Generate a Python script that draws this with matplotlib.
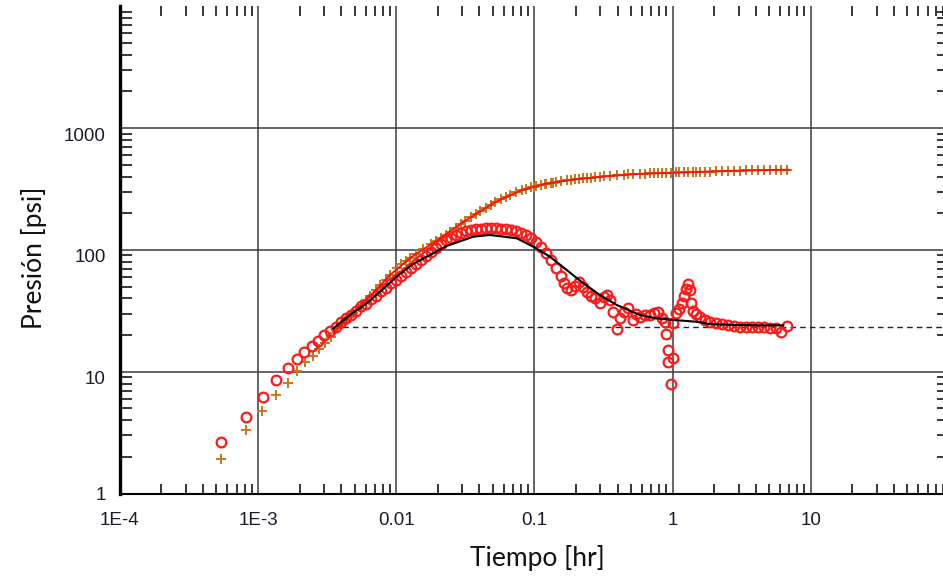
import matplotlib.pyplot as plt
import matplotlib.transforms as mtransforms
from matplotlib.ticker import FixedLocator, LogLocator, NullFormatter

# pressure change data (+), hr / psi
dp_time = [5.37e-4, 8.15e-4, 1.07e-3, 1.35e-3, 1.64e-3, 1.91e-3, 2.19e-3, 2.49e-3,
           2.76e-3, 3.05e-3, 3.36e-3, 3.79e-3, 3.99e-3, 4.26e-3, 4.71e-3, 4.87e-3,
           5.12e-3, 5.56e-3, 6.05e-3, 6.46e-3, 7.14e-3, 7.63e-3, 8.44e-3, 9.02e-3,
           1.014e-2, 1.083e-2, 1.178e-2, 1.259e-2, 1.39e-2, 1.563e-2, 1.79e-2, 1.94e-2,
           2.11e-2, 2.29e-2, 2.45e-2, 2.71e-2, 2.94e-2, 3.15e-2, 3.48e-2, 3.78e-2,
           4.04e-2, 4.47e-2, 4.85e-2, 5.19e-2, 5.73e-2, 6.23e-2, 6.66e-2, 7.36e-2,
           8.13e-2, 8.70e-2, 9.45e-2, 9.94e-2, 0.1027, 0.1117, 0.1194, 0.1214,
           0.132, 0.1364, 0.143, 0.156, 0.172, 0.184, 0.197, 0.210, 0.225, 0.240,
           0.257, 0.275, 0.298, 0.319, 0.353, 0.396, 0.445, 0.476, 0.517, 0.581,
           0.632, 0.686, 0.734, 0.784, 0.838, 0.896, 0.974, 1.058, 1.113, 1.209,
           1.293, 1.405, 1.477, 1.579, 1.717, 1.866, 2.062, 2.279, 2.518, 2.783,
           3.075, 3.399, 3.756, 4.150, 4.587, 5.069, 5.601, 6.088, 6.728]
dp_psi = [1.92, 3.32, 4.73, 6.47, 8.08, 10.2, 11.9, 13.5,
          15.4, 17.3, 19.4, 22.8, 24.0, 26.1, 29.2, 30.3,
          32.2, 35.3, 38.5, 41.8, 46.5, 51.5, 57.0, 62.2,
          71.0, 76.0, 81.0, 85.8, 93.0, 101.7, 112, 118.3,
          126, 133, 140.3, 152, 163, 172.7, 187, 198,
          208.6, 222, 235, 247.3, 260, 273, 282.3, 296,
          310.2, 318, 326, 331.5, 335, 342, 347.5, 349,
          354, 356.2, 361, 366, 373, 376, 380, 383, 386, 387,
          391, 394, 399, 402, 406, 410, 415, 418, 420, 421,
          423, 425, 426, 428, 429, 430, 430, 432, 433, 434,
          436, 437, 437, 438, 439, 440, 442, 443, 445, 446,
          448, 449, 452, 453, 453, 453, 453, 453, 455]

# pressure derivative data (o)
der_time = [5.37e-4, 8.18e-4, 1.08e-3, 1.36e-3, 1.64e-3, 1.90e-3, 2.17e-3, 2.46e-3,
            2.72e-3, 2.99e-3, 3.30e-3, 3.67e-3, 3.99e-3, 4.33e-3, 4.71e-3, 5.12e-3,
            5.56e-3, 6.05e-3, 6.57e-3, 7.14e-3, 7.76e-3, 8.44e-3, 9.17e-3, 9.97e-3,
            1.083e-2, 1.178e-2, 1.28e-2, 1.39e-2, 1.51e-2, 1.64e-2, 1.79e-2, 1.94e-2,
            2.11e-2, 2.29e-2, 2.49e-2, 2.71e-2, 2.94e-2, 3.20e-2, 3.48e-2, 3.78e-2,
            4.11e-2, 4.47e-2, 4.85e-2, 5.28e-2, 5.73e-2, 6.23e-2, 6.77e-2, 7.36e-2,
            8.00e-2, 8.70e-2, 9.45e-2, 0.1027, 0.1117, 0.1214, 0.132, 0.143,
            0.156, 0.164, 0.172, 0.184, 0.197, 0.210, 0.225, 0.240, 0.257, 0.275,
            0.298, 0.319, 0.335, 0.353, 0.371, 0.396, 0.416, 0.445, 0.476, 0.517,
            0.544, 0.581, 0.632, 0.686, 0.734, 0.784, 0.838, 0.881, 0.896, 0.927,
            0.927, 0.974, 1.007, 1.007, 1.058, 1.113, 1.170, 1.209, 1.250, 1.293,
            1.337, 1.359, 1.405, 1.477, 1.579, 1.717, 1.866, 2.062, 2.279, 2.518,
            2.783, 3.075, 3.399, 3.756, 4.150, 4.587, 5.069, 5.601, 6.088, 6.728]
der_psi = [2.63, 4.25, 6.23, 8.60, 10.7, 12.6, 14.4, 16.3,
           18.0, 19.9, 21.7, 23.3, 25.6, 27.6, 29.2, 31.5,
           34.6, 36.0, 39.5, 41.8, 46.0, 48.7, 53.5, 56.6,
           61.1, 65.8, 71.0, 76.6, 82.6, 89.1, 96.1, 103.7,
           111.8, 120.6, 125.2, 132.6, 137.6, 142.9, 145.7, 148.4,
           149.8, 151, 151, 151, 149.8, 148.4, 145.7, 142.9,
           137.6, 132.6, 125.2, 116.1, 105.6, 94.3, 82.6, 71.0,
           61.1, 53.5, 48.7, 46.9, 50.5, 54.5, 49.6, 45.1, 41.8, 40.3,
           36.6, 41.1, 42.6, 38.8, 30.9, 22.4, 27.6, 30.9, 33.3, 26.6,
           29.8, 28.1, 29.2, 29.2, 30.3, 30.9, 27.6, 25.6, 20.4, 15.1,
           12.0, 7.93, 12.95, 25.1, 30.3, 32.7, 36.6, 41.8, 47.7, 52.5,
           46.9, 36.6, 31.5, 29.8, 28.1, 26.6, 25.6, 25.1, 24.6, 24.2,
           23.7, 23.5, 23.3, 23.3, 23.1, 23.1, 22.9, 22.9, 21.3, 23.9]

# model curves
model_dp_time = [3.51e-3, 4.87e-3, 6.46e-3, 9.02e-3, 1.259e-2, 1.94e-2, 3.15e-2, 5.19e-2,
                 8.13e-2, 0.1194, 0.181, 0.313, 0.553, 0.99, 1.66, 2.925, 5.069, 6.9]
model_dp_psi = [20.8, 30.3, 41.8, 62.2, 85.8, 118, 173, 247,
                310, 348, 375, 400, 420, 430, 438, 447, 453, 455]
model_der_time = [3.51e-3, 4.63e-3, 6.12e-3, 8.03e-3, 9.97e-3, 1.323e-2, 1.855e-2, 2.32e-2,
                  3.61e-2, 4.77e-2, 7.45e-2, 9.82e-2, 0.1297, 0.1713, 0.2259, 0.2984,
                  0.394, 0.581, 0.767, 1.012, 1.495, 1.866, 2.75, 4.29, 6.32]
model_der_psi = [22.7, 29.2, 36.4, 47.7, 59.9, 76.6, 93.8, 107.7,
                 128.3, 132.6, 124.5, 106.2, 87.9, 68.4, 53.2, 42.6,
                 35.3, 29.2, 27.4, 26.6, 25.7, 24.6, 24.2, 24.0, 24.0]

# radial flow stabilisation
iarf_start = 3.5e-3
iarf_level = 23.5

x_ticks = [1e-4, 1e-3, 1e-2, 1e-1, 1, 10]
x_labels = ['1E-4', '1E-3', '0.01', '0.1', '1', '10']
y_ticks = [1, 10, 100, 1000]
y_labels = ['1', '10', '100', '1000']

fig = plt.figure(figsize=(9.43, 5.8), dpi=100)
ax = fig.add_axes([119.8 / 943, 86.5 / 580, 829.2 / 943, 487.2 / 580])

ax.set_xscale('log')
ax.set_yscale('log')
ax.set_xlim(1e-4, 100)
ax.set_ylim(1, 10000)

ax.grid(True, which='major', color='#3c3c3c', linewidth=1.1, zorder=0)

ax.plot(dp_time, dp_psi, linestyle='none', marker='+', markersize=7,
        markeredgewidth=1.4, color='#c8761a', zorder=3)
ax.plot(der_time, der_psi, linestyle='none', marker='o', markersize=7,
        markerfacecolor='none', markeredgewidth=1.6, color='#ff1a1a', zorder=4)
ax.plot(model_dp_time, model_dp_psi, color='#ff1010', linewidth=1.4, zorder=5)
ax.plot(model_der_time, model_der_psi, color='black', linewidth=1.5, zorder=6)
ax.plot([iarf_start, 100], [iarf_level, iarf_level], color='#222222',
        linewidth=1.0, linestyle=(0, (4, 3)), zorder=2)

ax.xaxis.set_major_locator(FixedLocator(x_ticks))
ax.set_xticklabels(x_labels)
ax.yaxis.set_major_locator(FixedLocator(y_ticks))
ax.set_yticklabels(y_labels)
ax.xaxis.set_minor_locator(LogLocator(base=10, subs=range(2, 10), numticks=20))
ax.yaxis.set_minor_locator(LogLocator(base=10, subs=range(2, 10), numticks=20))
ax.xaxis.set_minor_formatter(NullFormatter())
ax.yaxis.set_minor_formatter(NullFormatter())

ax.tick_params(which='both', direction='in', top=True, right=True, color='black')
ax.tick_params(which='major', length=0, labelsize=13.5, labelcolor='#1b1b2a')
ax.tick_params(axis='x', which='major', pad=13)
ax.tick_params(axis='y', which='major', pad=10)
ax.tick_params(axis='x', which='minor', length=7, width=1.1)
ax.tick_params(axis='y', which='minor', length=8.5, width=1.1)

for lab in ax.get_xticklabels() + ax.get_yticklabels():
    lab.set_fontfamily('Liberation Sans')
shift = mtransforms.ScaledTranslation(0, -0.06, fig.dpi_scale_trans)
for lab in ax.get_yticklabels()[1:]:
    lab.set_transform(lab.get_transform() + shift)

ax.spines['top'].set_visible(False)
ax.spines['right'].set_visible(False)
ax.spines['left'].set_linewidth(2.4)
ax.spines['bottom'].set_linewidth(1.5)

ax.set_xlabel('Tiempo [hr]', fontsize=19, family='Lato', color='#111111')
ax.set_ylabel('Presión [psi]', fontsize=19, family='Lato', color='#111111')
ax.xaxis.set_label_coords(0.503, -0.105)
ax.yaxis.set_label_coords(-0.088, 0.483)

fig.savefig('out.png', dpi=100)
